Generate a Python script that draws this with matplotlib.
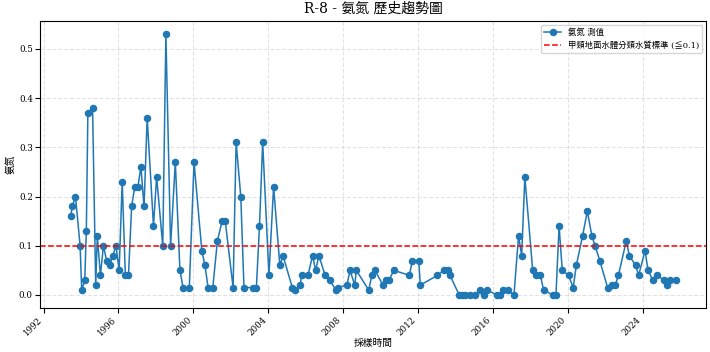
import matplotlib
matplotlib.use("Agg")
import matplotlib.pyplot as plt
import matplotlib.dates as mdates
import pandas as pd

plt.rcParams['font.family'] = ['DejaVu Serif', 'Noto Sans CJK TC']
plt.rcParams['axes.unicode_minus'] = False

station = "R-8"
item = "氨氮"
limit = 0.1

dates = [
    "1993-06", "1993-07", "1993-09", "1993-12", "1994-01", "1994-03", "1994-04", "1994-05",
    "1994-08", "1994-10", "1994-11", "1995-01", "1995-03", "1995-05", "1995-07", "1995-09",
    "1995-11", "1996-01", "1996-03", "1996-05", "1996-07", "1996-09", "1996-11", "1997-01",
    "1997-03", "1997-05", "1997-07", "1997-11", "1998-01", "1998-05", "1998-07", "1998-10",
    "1999-01", "1999-04", "1999-06", "1999-10", "2000-01", "2000-06", "2000-08", "2000-10",
    "2001-01", "2001-04", "2001-07", "2001-09", "2002-02", "2002-04", "2002-07", "2002-09",
    "2003-03", "2003-05", "2003-07", "2003-09", "2004-01", "2004-04", "2004-08", "2004-10",
    "2005-04", "2005-06", "2005-09", "2005-10", "2006-02", "2006-05", "2006-07", "2006-09",
    "2007-01", "2007-04", "2007-08", "2007-09", "2008-03", "2008-05", "2008-08", "2008-09",
    "2009-05", "2009-07", "2009-09", "2010-02", "2010-04", "2010-06", "2010-09", "2011-07",
    "2011-09", "2012-01", "2012-02", "2013-01", "2013-05", "2013-08", "2013-09", "2014-03",
    "2014-05", "2014-07", "2014-10", "2015-01", "2015-04", "2015-07", "2015-09", "2016-03",
    "2016-05", "2016-07", "2016-10", "2017-02", "2017-05", "2017-07", "2017-09", "2018-02",
    "2018-04", "2018-07", "2018-09", "2019-03", "2019-05", "2019-07", "2019-09", "2020-01",
    "2020-04", "2020-06", "2020-10", "2021-01", "2021-04", "2021-06", "2021-09", "2022-02",
    "2022-05", "2022-07", "2022-09", "2023-02", "2023-04", "2023-08", "2023-10", "2024-02",
    "2024-04", "2024-07", "2024-10", "2025-02", "2025-04", "2025-06", "2025-10",
]

values = [
    0.16, 0.18, 0.20, 0.10, 0.01, 0.03, 0.13, 0.37,
    0.38, 0.02, 0.12, 0.04, 0.10, 0.07, 0.06, 0.08,
    0.10, 0.05, 0.23, 0.04, 0.04, 0.18, 0.22, 0.22,
    0.26, 0.18, 0.36, 0.14, 0.24, 0.10, 0.53, 0.10,
    0.27, 0.05, 0.015, 0.015, 0.27, 0.09, 0.06, 0.015,
    0.015, 0.11, 0.15, 0.15, 0.015, 0.31, 0.20, 0.015,
    0.015, 0.015, 0.14, 0.31, 0.04, 0.22, 0.06, 0.08,
    0.015, 0.01, 0.02, 0.04, 0.04, 0.08, 0.05, 0.08,
    0.04, 0.03, 0.01, 0.015, 0.02, 0.05, 0.02, 0.05,
    0.01, 0.04, 0.05, 0.02, 0.03, 0.03, 0.05, 0.04,
    0.07, 0.07, 0.02, 0.04, 0.05, 0.05, 0.04, 0.0,
    0.0, 0.0, 0.0, 0.0, 0.01, 0.0, 0.01, 0.0,
    0.0, 0.01, 0.01, 0.0, 0.12, 0.08, 0.24, 0.05,
    0.04, 0.04, 0.01, 0.0, 0.0, 0.14, 0.05, 0.04,
    0.015, 0.06, 0.12, 0.17, 0.12, 0.10, 0.07, 0.015,
    0.02, 0.02, 0.04, 0.11, 0.08, 0.06, 0.04, 0.09,
    0.05, 0.03, 0.04, 0.03, 0.02, 0.03, 0.03,
]

x = pd.to_datetime(dates) + pd.Timedelta(days=14)

fig, ax = plt.subplots(figsize=(7.1, 3.52), dpi=100)

ax.plot(x, values, marker="o", markersize=4.4, linewidth=1.1,
        color="#1f77b4", label=f"{item} 測值")
ax.axhline(limit, color="red", linestyle="--", linewidth=1.1,
           label="甲類地面水體分類水質標準 (≦0.1)")

ax.set_title(f"{station} - {item} 歷史趨勢圖", fontsize=10)
ax.set_xlabel("採樣時間", fontsize=7, labelpad=1)
ax.set_ylabel(item, fontsize=7, labelpad=2)

ax.xaxis.set_major_locator(mdates.YearLocator(4))
ax.xaxis.set_major_formatter(mdates.DateFormatter("%Y"))
plt.setp(ax.get_xticklabels(), rotation=45, ha="right")
ax.tick_params(labelsize=6.2, pad=2)

ax.grid(True, linestyle="--", alpha=0.35)
ax.legend(loc="upper right", fontsize=6)

fig.subplots_adjust(left=0.057, right=0.995, top=0.94, bottom=0.125)
fig.savefig("out.png", dpi=100)
